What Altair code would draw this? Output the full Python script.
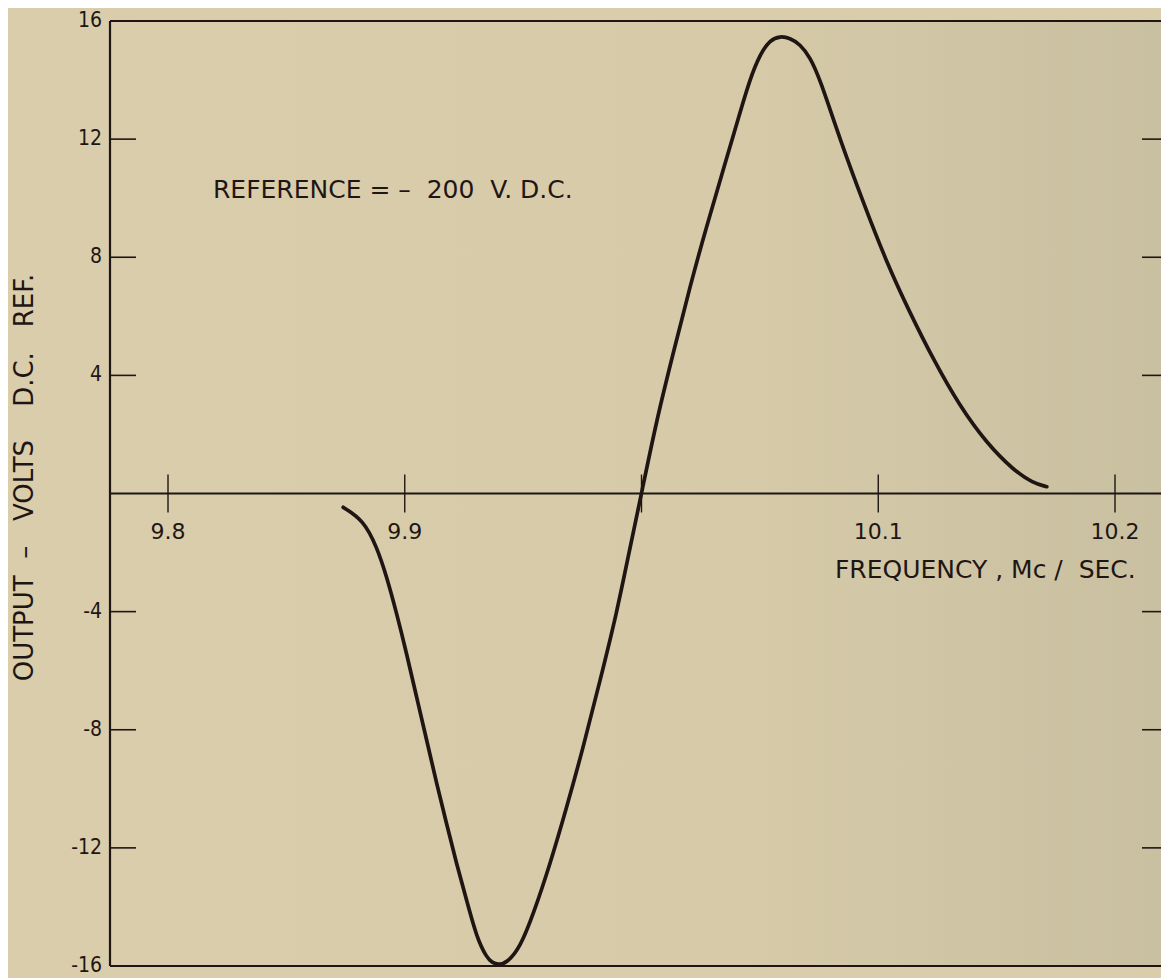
import altair as alt
import pandas as pd

# ---- data ----
freq = [9.8740, 9.8825, 9.8882, 9.8924, 9.8966, 9.9008, 9.9050, 9.9093, 9.9135, 9.9177,
        9.9219, 9.9262, 9.9304, 9.9346, 9.9369, 9.9395, 9.9431, 9.9487, 9.9543, 9.9614,
        9.9684, 9.9754, 9.9825, 9.9895, 9.9951, 10.0000, 10.0064, 10.0134, 10.0205, 10.0275,
        10.0346, 10.0416, 10.0458, 10.0501, 10.0543, 10.0585, 10.0627, 10.0669, 10.0712, 10.0754,
        10.0838, 10.0937, 10.1036, 10.1134, 10.1233, 10.1345, 10.1458, 10.1570, 10.1655, 10.1712]
volts = [-0.468, -0.899, -1.805, -2.823, -4.065, -5.423, -6.895, -8.365, -9.834, -11.191,
         -12.548, -13.794, -15.039, -15.718, -15.880, -15.965, -15.898, -15.378, -14.245, -12.548,
         -10.628, -8.592, -6.329, -4.065, -1.850, 0.000, 2.494, 4.757, 7.017, 9.053,
         10.977, 12.901, 14.031, 14.880, 15.355, 15.490, 15.423, 15.219, 14.778, 14.031,
         11.995, 9.847, 7.811, 6.115, 4.530, 2.945, 1.703, 0.797, 0.346, 0.231]

y_label_values = [16, 12, 8, 4, -4, -8, -12, -16]
y_label_text = ["16", "12", "8", "4", "-4", "-8", "-12", "-16"]
y_inner_ticks = [12, 8, 4, -4, -8, -12]
x_tick_values = [9.8, 9.9, 10.0, 10.1, 10.2]
x_label_values = [9.8, 9.9, 10.1, 10.2]
x_label_text = ["9.8", "9.9", "10.1", "10.2"]

annot_text = ["REFERENCE = \u2013\u00a0\u00a0200\u00a0\u00a0V. D.C.",
              "FREQUENCY , Mc /\u00a0\u00a0SEC."]
annot_x = [9.819, 10.0817]
annot_y = [10.28, -2.59]

y_title = "OUTPUT\u00a0\u00a0\u2013\u00a0\u00a0\u00a0VOLTS\u00a0\u00a0\u00a0\u00a0D.C.\u00a0\u00a0\u00a0REF."

# ---- layout ----
W, H = 1051, 945
X_MIN, X_MAX = 9.7755, 9.7755 + W / 2367.5
Y_MIN, Y_MAX = -16, 16
PX_X = (X_MAX - X_MIN) / W
PX_Y = (Y_MAX - Y_MIN) / H

INK = "#1f1614"
BG = "#d9cdab"

xs = alt.Scale(domain=[X_MIN, X_MAX], nice=False, zero=False)
ys = alt.Scale(domain=[Y_MIN, Y_MAX], nice=False, zero=False)


def X(field):
    return alt.X(field, scale=xs, axis=None)


def Y(field):
    return alt.Y(field, scale=ys, axis=None)


paper = alt.Chart(pd.DataFrame({"x": [X_MIN], "x2": [X_MAX], "y": [Y_MIN], "y2": [Y_MAX]})).mark_rect(
    color=alt.LinearGradient(
        gradient="linear", x1=0, x2=1, y1=0, y2=0,
        stops=[alt.GradientStop(color=BG, offset=0),
               alt.GradientStop(color="#d6caa8", offset=0.6),
               alt.GradientStop(color="#c9c0a1", offset=1)])
).encode(x=X("x:Q"), x2="x2:Q", y=Y("y:Q"), y2="y2:Q")

curve = alt.Chart(pd.DataFrame({"f": freq, "v": volts})).mark_line(
    color=INK, strokeWidth=3.7, interpolate="basis", strokeCap="round"
).encode(x=X("f:Q"), y=Y("v:Q"))

frame_df = pd.DataFrame({
    "x": [X_MIN, X_MIN, X_MIN, X_MIN],
    "x2": [X_MAX, X_MAX, X_MIN, X_MAX],
    "y": [Y_MAX, Y_MIN, Y_MIN, 0],
    "y2": [Y_MAX, Y_MIN, Y_MAX, 0],
})
frame = alt.Chart(frame_df).mark_rule(color=INK, strokeWidth=2.2).encode(
    x=X("x:Q"), x2="x2:Q", y=Y("y:Q"), y2="y2:Q")

xt_df = pd.DataFrame({"x": x_tick_values})
xt_df["y"] = -19 * PX_Y
xt_df["y2"] = 19 * PX_Y
xticks = alt.Chart(xt_df).mark_rule(color=INK, strokeWidth=1.4).encode(
    x=X("x:Q"), y=Y("y:Q"), y2="y2:Q")

yt_df = pd.DataFrame({
    "y": y_inner_ticks + y_inner_ticks,
    "x": [X_MIN] * len(y_inner_ticks) + [X_MAX - 19 * PX_X] * len(y_inner_ticks),
    "x2": [X_MIN + 26 * PX_X] * len(y_inner_ticks) + [X_MAX] * len(y_inner_ticks),
})
yticks = alt.Chart(yt_df).mark_rule(color=INK, strokeWidth=1.6).encode(
    x=X("x:Q"), x2="x2:Q", y=Y("y:Q"))

ylab_df = pd.DataFrame({"y": y_label_values, "t": y_label_text})
ylab_df["x"] = X_MIN - 8 * PX_X
ylabels = alt.Chart(ylab_df).mark_text(
    align="right", baseline="middle", fontSize=21, color=INK,
    font="Liberation Sans Narrow, DejaVu Sans Condensed, sans-serif"
).encode(x=X("x:Q"), y=Y("y:Q"), text="t:N")

xlab_df = pd.DataFrame({"x": x_label_values, "t": x_label_text})
xlab_df["y"] = -1.29
xlabels = alt.Chart(xlab_df).mark_text(
    align="center", baseline="middle", fontSize=22, color=INK, font="DejaVu Sans"
).encode(x=X("x:Q"), y=Y("y:Q"), text="t:N")

ann = alt.Chart(pd.DataFrame({"x": annot_x, "y": annot_y, "t": annot_text})).mark_text(
    align="left", baseline="middle", font="DejaVu Sans", fontSize=25, color=INK
).encode(x=X("x:Q"), y=Y("y:Q"), text="t:N")

ytitle = alt.Chart(pd.DataFrame({"x": [X_MIN - 85 * PX_X], "y": [0.54], "t": [y_title]})).mark_text(
    align="center", baseline="middle", angle=270, font="DejaVu Sans", fontSize=26, color=INK
).encode(x=X("x:Q"), y=Y("y:Q"), text="t:N")

chart = alt.layer(paper, frame, xticks, yticks, ylabels, xlabels, ann, ytitle, curve).properties(
    width=W, height=H,
    padding={"left": 102, "top": 13, "right": 0, "bottom": 12},
    autosize=alt.AutoSizeParams(type="none"),
).configure(background=BG).configure_view(stroke=None)

chart.save("out.html", embed_options={"renderer": "svg", "actions": False})
